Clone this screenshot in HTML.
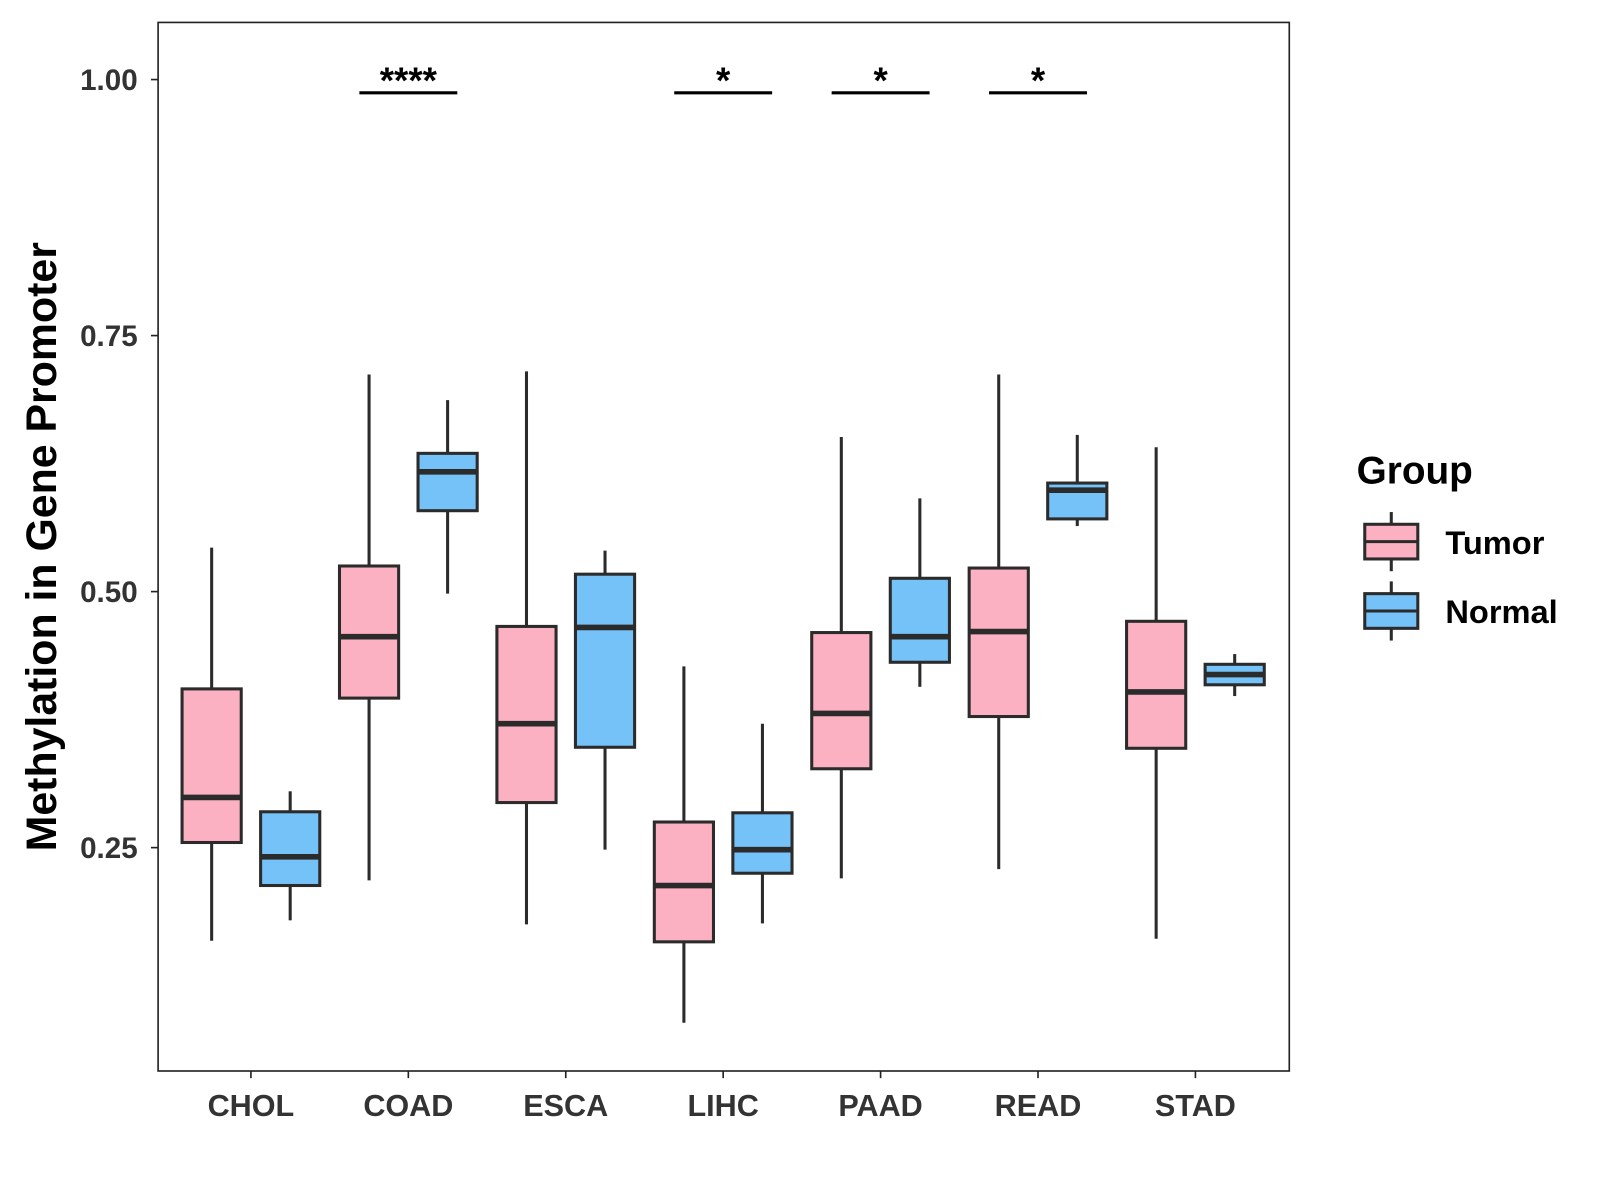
<!DOCTYPE html>
<html><head><meta charset="utf-8"><style>
html,body{margin:0;padding:0;background:#fff;}
svg{display:block;font-family:"Liberation Sans",Arial,sans-serif;}
</style></head><body>
<svg id="chart" width="1600" height="1200" viewBox="0 0 1600 1200">
<rect x="0" y="0" width="1600" height="1200" fill="#fff"/>
<g transform="scale(1.02)">
<rect x="155" y="22" width="1109" height="1028" fill="none" stroke="#222" stroke-width="1.6"/>
<g id="marks"></g>
<text transform="translate(55,536) rotate(-90)" text-anchor="middle" font-size="42" font-weight="bold" fill="#000">Methylation in Gene Promoter</text>
<g>
<text x="1330" y="474" font-size="38" font-weight="bold" fill="#000">Group</text>
<g>
<line x1="1364" y1="502" x2="1364" y2="560" stroke="#2b2b2b" stroke-width="3"/>
<rect x="1338" y="514" width="52" height="34" fill="#fcb1c3" stroke="#2b2b2b" stroke-width="3"/>
<line x1="1338" y1="531" x2="1390" y2="531" stroke="#2b2b2b" stroke-width="3"/>
<text x="1417" y="543" font-size="32" font-weight="bold" fill="#000">Tumor</text>
</g>
<g>
<line x1="1364" y1="570" x2="1364" y2="628" stroke="#2b2b2b" stroke-width="3"/>
<rect x="1338" y="582" width="52" height="34" fill="#75c2f8" stroke="#2b2b2b" stroke-width="3"/>
<line x1="1338" y1="599" x2="1390" y2="599" stroke="#2b2b2b" stroke-width="3"/>
<text x="1417" y="611" font-size="32" font-weight="bold" fill="#000">Normal</text>
</g>
</g>
</g>
</svg>
<script>
const categories = ["CHOL","COAD","ESCA","LIHC","PAAD","READ","STAD"];
const tumorMin = [0.159,0.218,0.175,0.079,0.220,0.229,0.161];
const tumorQ1  = [0.255,0.396,0.294,0.158,0.327,0.378,0.347];
const tumorMed = [0.299,0.456,0.371,0.213,0.381,0.461,0.402];
const tumorQ3  = [0.405,0.525,0.466,0.275,0.460,0.523,0.471];
const tumorMax = [0.543,0.712,0.715,0.427,0.651,0.712,0.641];
const normalMin = [0.179,0.498,0.248,0.176,0.407,0.564,0.398];
const normalQ1  = [0.213,0.579,0.348,0.225,0.431,0.571,0.409];
const normalMed = [0.241,0.617,0.465,0.248,0.456,0.599,0.419];
const normalQ3  = [0.285,0.635,0.517,0.284,0.513,0.606,0.429];
const normalMax = [0.305,0.687,0.540,0.371,0.591,0.653,0.439];
const yTicks = [0.25,0.50,0.75,1.00];
const yTickLabels = ["0.25","0.50","0.75","1.00"];
const sigCategories = ["COAD","LIHC","PAAD","READ"];
const sigLabels = ["****","*","*","*"];

const NS="http://www.w3.org/2000/svg";
const g=document.getElementById('marks');
function y(v){return 78+(1-v)*1004;}
function x(i){return 246+i*154.33;}
function mk(tag,attrs,parent){const e=document.createElementNS(NS,tag);for(const k in attrs)e.setAttribute(k,attrs[k]);(parent||g).appendChild(e);return e;}

yTicks.forEach((t,i)=>{
  const tk=mk('line',{x1:148,x2:155,y1:y(t),y2:y(t),stroke:'#222','stroke-width':1.6});
  
  
  const lb=mk('text',{x:135,y:y(t)+10,'text-anchor':'end','font-size':29,'font-weight':'bold',fill:'#333'});
  lb.textContent=yTickLabels[i];
  
  
});
categories.forEach((c,i)=>{
  const tk=mk('line',{x1:x(i),x2:x(i),y1:1050,y2:1057,stroke:'#222','stroke-width':1.6});
  
  
  const lb=mk('text',{x:x(i),y:1094,'text-anchor':'middle','font-size':30,'font-weight':'bold',fill:'#333'});
  lb.textContent=c;
  
  
});
function box(cx,mn,q1,md,q3,mx,fill,name){
  const grp=mk('g',{});
  
  
  mk('line',{x1:cx,x2:cx,y1:y(mx),y2:y(q3),stroke:'#2b2b2b','stroke-width':3},grp);
  mk('line',{x1:cx,x2:cx,y1:y(q1),y2:y(mn),stroke:'#2b2b2b','stroke-width':3},grp);
  mk('rect',{x:cx-29,y:y(q3),width:58,height:y(q1)-y(q3),fill:fill,stroke:'#2b2b2b','stroke-width':3},grp);
  mk('line',{x1:cx-29,x2:cx+29,y1:y(md),y2:y(md),stroke:'#2b2b2b','stroke-width':5.5},grp);
}
categories.forEach((c,i)=>{
  box(x(i)-38.5,tumorMin[i],tumorQ1[i],tumorMed[i],tumorQ3[i],tumorMax[i],'#fcb1c3','box-tumor-'+c.toLowerCase());
  box(x(i)+38.5,normalMin[i],normalQ1[i],normalMed[i],normalQ3[i],normalMax[i],'#75c2f8','box-normal-'+c.toLowerCase());
});
sigCategories.forEach((c,k)=>{
  const i=categories.indexOf(c);
  const l=mk('line',{x1:x(i)-48,x2:x(i)+48,y1:91,y2:91,stroke:'#000','stroke-width':3});
  
  
  const t=mk('text',{x:x(i),y:91,'text-anchor':'middle','font-size':36,'font-weight':'bold',fill:'#000'});
  t.textContent=sigLabels[k];
  
  
});
</script>
</body></html>
